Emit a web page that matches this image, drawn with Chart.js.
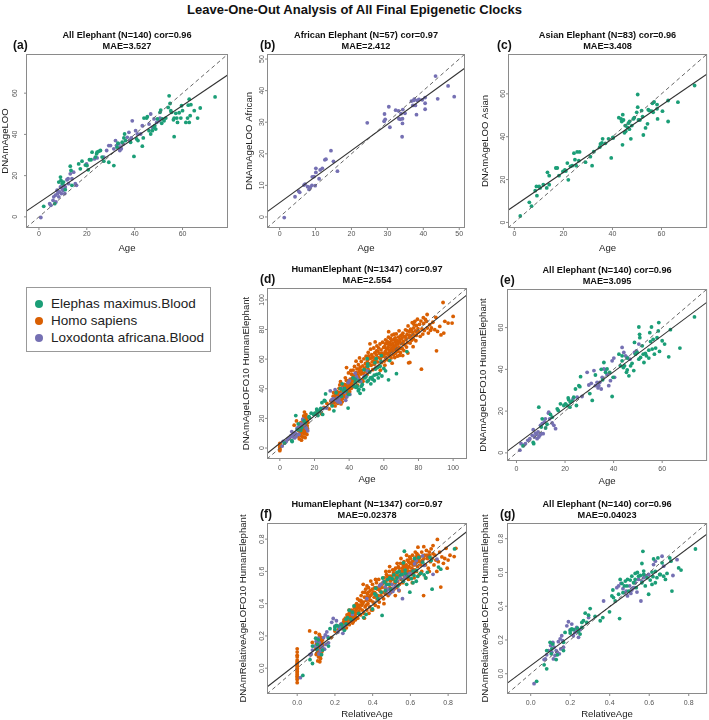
<!DOCTYPE html>
<html>
<head>
<meta charset="utf-8">
<script src="https://cdn.jsdelivr.net/npm/chart.js@4.4.0/dist/chart.umd.min.js"></script>
<style>
  body { margin: 0; background: #fff; }
  #page { position: relative; width: 709px; height: 720px; font-family: "Liberation Sans", Arial, sans-serif; overflow: hidden; }
  #page canvas { position: absolute; left: 0; top: 0; }
  #mainTitle { position: absolute; left: 0; width: 709px; top: 2px; text-align: center; font-weight: bold; font-size: 13px; color: #111; }
  #legend { position: absolute; left: 26px; top: 287px; width: 185px; height: 65px; border: 1px solid #999; box-sizing: border-box; }
  #legend .item { position: absolute; left: 24px; font-size: 13.5px; color: #222; line-height: 16px; white-space: nowrap; }
  #legend .dot { position: absolute; left: -16px; top: 4px; width: 8px; height: 8px; border-radius: 50%; }
</style>
</head>
<body>
<div id="page">
  <div id="mainTitle">Leave-One-Out Analysis of All Final Epigenetic Clocks</div>
  <div id="legend"></div>
</div>
<script>
// species shown in the legend
const speciesNames = ['Elephas maximus.Blood', 'Homo sapiens', 'Loxodonta africana.Blood'];

// panel (a): All Elephant, x = Age, y = DNAmAgeLOO
const aAsian = [[2.0,5.1],[6.6,6.4],[8.3,16.9],[9.0,19.3],[9.2,17.7],[9.7,16.1],[10.3,16.9],[11.0,13.2],[13.1,24.6],[13.4,22.5],
  [13.8,15.3],[16.6,25.7],[17.3,23.3],[18.0,27.0],[19.4,25.1],[20.1,24.9],[20.6,22.8],[21.1,27.7],[21.8,27.7],[22.2,31.4],
  [23.6,29.0],[24.1,30.6],[24.3,31.4],[25.0,31.8],[25.7,32.2],[26.4,29.0],[27.1,27.0],[29.2,26.5],[31.3,24.9],[32.7,33.8],
  [33.0,35.7],[34.8,36.2],[35.5,38.3],[36.2,37.0],[35.8,40.2],[38.3,36.2],[39.7,29.3],[40.8,37.8],[41.4,37.0],[43.2,34.3],
  [43.6,38.3],[43.9,47.9],[45.0,47.9],[45.3,48.6],[46.0,41.8],[46.7,40.2],[47.4,41.8],[48.1,43.4],[48.4,44.2],[48.8,42.6],
  [49.5,47.5],[50.6,50.7],[50.9,51.8],[51.3,45.4],[51.6,47.5],[52.3,46.6],[53.0,47.9],[54.0,53.1],[54.4,58.7],[54.8,55.0],
  [55.1,51.5],[55.4,50.7],[56.2,47.1],[56.5,38.9],[57.2,50.2],[57.6,47.9],[57.9,45.8],[58.6,50.5],[59.3,47.9],[59.6,53.9],
  [60.0,51.5],[61.4,45.8],[62.1,47.9],[62.4,54.2],[62.8,57.1],[63.2,49.1],[63.5,54.4],[64.9,51.5],[66.3,47.9],[67.4,52.8],
  [73.6,58.2],[62.8,45.8],[56.5,47.9]];
const aAfrican = [[0.8,-0.3],[4.5,6.4],[5.0,5.6],[5.9,8.0],[6.2,9.7],[6.9,10.5],[7.1,7.2],[7.6,12.9],[7.8,11.3],[8.3,9.7],
  [8.7,12.1],[9.0,14.5],[9.4,11.3],[9.7,13.7],[10.1,12.9],[10.3,15.3],[10.8,11.3],[11.0,14.5],[11.7,18.0],[12.2,18.5],
  [12.4,16.1],[13.1,20.9],[13.8,18.5],[14.5,21.7],[15.2,16.1],[15.7,15.3],[19.9,25.7],[23.2,28.1],[24.3,28.6],[27.1,29.0],
  [28.3,32.2],[29.2,34.6],[29.9,34.6],[31.3,33.0],[32.0,37.0],[32.4,34.6],[33.4,35.4],[34.1,33.8],[33.8,32.2],[34.4,33.0],
  [35.2,35.4],[36.9,38.6],[37.6,41.0],[38.0,37.0],[38.6,38.3],[39.0,46.6],[40.4,41.8],[41.1,40.2],[42.5,40.2],[43.2,44.2],
  [46.0,45.0],[46.7,49.9],[47.4,43.4],[48.1,47.5],[49.2,45.8],[50.2,46.6],[50.6,47.9]];

// panel (b): African Elephant
const bAfrican = [[1.3,-0.2],[4.3,6.4],[5.3,8.2],[5.6,7.8],[6.8,10.1],[7.1,10.4],[7.8,9.6],[8.2,8.7],[8.5,9.4],[9.0,10.0],
  [9.1,12.7],[9.6,12.8],[9.9,9.9],[10.1,15.4],[10.1,14.1],[11.0,12.1],[11.3,14.9],[11.9,15.4],[12.6,18.1],[12.9,18.3],
  [14.3,21.0],[15.0,17.6],[16.1,14.5],[24.4,29.8],[29.2,32.6],[29.1,30.3],[29.4,30.9],[30.4,34.9],[30.7,28.4],[32.3,33.8],
  [33.1,33.6],[33.2,31.1],[33.6,30.9],[33.8,32.7],[34.3,34.0],[34.2,29.6],[34.2,31.1],[34.1,25.4],[34.9,32.8],[36.7,36.7],
  [37.3,36.9],[37.1,35.3],[37.5,37.3],[37.8,35.3],[38.3,36.9],[38.1,32.4],[38.8,37.2],[39.7,37.1],[40.5,37.8],[40.5,36.0],
  [40.5,34.1],[43.4,44.6],[44.0,37.4],[46.9,41.5],[48.6,38.1]];

// panel (c): Asian Elephant
const cAsian = [[2.4,3.0],[6.1,9.4],[7.0,7.6],[8.5,14.8],[9.0,16.8],[9.2,12.5],[10.1,16.8],[10.5,16.1],[11.8,17.6],[13.2,16.1],
  [13.5,23.4],[14.2,21.8],[14.2,17.6],[16.9,25.4],[17.5,25.4],[18.2,21.8],[19.8,23.8],[20.6,24.5],[21.0,24.0],[21.6,27.7],
  [22.0,19.9],[22.9,26.2],[23.6,26.5],[24.3,32.3],[24.7,29.3],[25.2,26.5],[25.6,32.9],[26.3,28.8],[26.6,32.9],[29.0,28.1],
  [31.0,30.7],[31.7,26.5],[35.1,36.6],[35.7,37.1],[36.0,39.0],[37.1,36.9],[38.4,39.0],[39.5,30.1],[40.2,39.7],[40.3,39.4],
  [43.5,48.3],[43.8,47.1],[44.2,50.3],[44.1,36.2],[44.5,47.8],[44.9,41.8],[45.2,45.2],[45.4,42.5],[46.1,44.4],[46.5,46.3],
  [46.9,43.5],[47.5,39.0],[47.9,45.2],[48.5,48.3],[49.9,51.4],[50.3,53.8],[50.3,59.7],[50.6,47.8],[51.2,47.8],[51.9,52.2],
  [52.3,49.4],[52.6,40.8],[53.5,44.1],[54.3,46.0],[55.0,52.2],[56.0,51.9],[56.3,55.6],[56.6,51.4],[58.2,53.0],[58.2,55.0],
  [58.4,48.3],[60.4,51.9],[62.7,56.9],[62.7,47.1],[66.7,56.1],[73.5,63.9],[34.8,35.1],[48.9,48.9],[54.6,52.6],[57.0,56.2],
  [32.4,33.0],[42.6,48.9],[47.0,47.2]];

// panels (d) and (e): HumanElephant clock, x = Age, y = DNAmAgeLOFO10 HumanElephant
const eAsian = [[2.7,3.3],[7.1,4.4],[6.9,5.0],[9.2,21.9],[10.2,12.4],[10.6,16.3],[12.6,13.7],[14.0,18.4],[14.7,17.1],[16.8,21.1],
  [17.2,20.3],[18.1,23.5],[19.5,22.7],[20.2,23.5],[20.9,22.7],[21.3,26.3],[21.5,25.4],[22.0,21.9],[22.9,24.8],[23.6,26.7],
  [24.3,30.6],[24.7,22.7],[25.7,32.2],[26.1,31.7],[26.4,36.5],[31.2,25.1],[32.5,37.3],[34.9,40.0],[36.0,43.3],[36.7,38.6],
  [37.3,40.2],[38.4,38.6],[39.4,27.0],[39.8,36.2],[42.2,47.3],[42.8,41.7],[43.5,46.5],[44.0,40.9],[44.5,41.7],[45.3,38.6],
  [45.6,39.7],[46.3,36.9],[47.0,41.7],[47.6,42.9],[48.3,39.4],[48.6,52.9],[49.0,47.3],[49.7,48.1],[50.4,60.3],[50.7,56.8],
  [50.8,55.2],[51.1,45.7],[51.8,51.3],[52.2,47.3],[52.5,43.3],[53.1,47.6],[53.5,46.5],[54.5,49.2],[54.9,57.6],[55.2,53.3],
  [55.9,49.7],[56.3,54.4],[56.8,47.3],[57.3,50.2],[58.4,58.4],[58.6,62.4],[58.9,48.6],[60.0,53.7],[61.0,52.1],[62.7,46.0],
  [63.4,59.0],[67.3,50.2],[73.3,65.1],[55.6,60.3],[57.9,55.2],[54.5,45.4],[43.5,44.1],[45.6,45.4],[50.4,44.9],[22.2,24.3],
  [35.5,35.0],[30.2,28.4],[12.0,11.9]];
const eAfrican = [[1.4,1.3],[3.0,3.7],[3.7,4.4],[4.7,6.0],[5.5,6.8],[6.5,8.4],[6.9,11.1],[7.4,7.6],[7.8,9.5],[8.5,6.8],
  [8.9,10.0],[9.2,7.6],[9.6,8.4],[9.9,13.2],[10.2,9.2],[10.6,14.0],[11.0,9.2],[11.5,14.8],[11.9,16.3],[13.2,19.0],
  [13.3,19.5],[13.7,16.3],[14.7,14.3],[15.4,13.2],[16.1,11.6],[23.3,25.9],[25.0,26.7],[27.0,27.0],[29.1,38.6],[29.8,32.5],
  [30.8,33.3],[31.9,39.4],[32.5,32.2],[33.2,33.8],[33.6,31.1],[33.9,32.2],[34.3,33.8],[34.9,30.6],[35.3,36.2],[36.0,40.2],
  [36.7,39.7],[37.3,37.5],[38.0,32.2],[38.7,34.6],[39.4,44.1],[40.1,45.4],[40.4,36.2],[43.5,50.5],[44.2,48.1],[44.9,46.5],
  [45.6,45.7],[46.7,44.9],[48.6,48.1],[49.4,48.9],[50.4,52.1],[1.9,4.4],[8.2,8.9]];
const dHuman = [[0,0.4],[0,-0.9],[0,1.6],[0.2,2.4],[0,-1.8],[0.3,0.9],[0,3.1],
  [8.3,15.4],[9.6,18.3],[10.5,8.1],[11.2,6.2],[11.8,10.4],[12.1,12.3],[12.5,15.0],[12.3,8.3],[13.1,17.2],[13.5,19.5],
  [13.8,21.7],[14.4,10.5],[14.8,13.9],[15.0,16.1],[15.4,18.3],[14.0,9.4],[13.1,10.5],[12.5,5.3],[15.4,11.6],[15.8,15.0],
  [13.5,13.9],[14.4,16.8],[12.1,17.2],[14.8,20.6],[13.8,12.8],[14.2,24.3],[15.1,22.5],[13.2,7.4],[14.6,7.0],[15.6,9.2],
  [16.0,13.0],[12.8,11.6],[13.9,15.6],[14.9,12.4],[15.3,14.6],[13.4,16.3],[14.1,18.9],[15.7,20.1],[12.9,13.5],[14.5,11.4],
  [16.2,17.2],[11.5,14.2],[10.8,11.8],
  [21.5,24.0],[24.0,23.2],[25.5,27.5],[27.2,30.1],[28.5,26.4],[29.4,31.8],
  [30.1,29.2],[30.5,32.4],[30.8,35.0],[31.2,30.6],[31.5,33.8],[31.9,28.4],[32.3,36.2],[32.6,31.5],[32.8,34.4],[33.1,38.1],
  [33.4,30.2],[33.7,33.0],[34.0,35.7],[34.2,40.3],[34.5,32.1],[34.8,37.4],[35.1,34.6],[35.3,29.8],[35.6,39.2],[35.9,36.1],
  [36.2,33.5],[36.4,41.5],[36.7,38.0],[37.0,35.2],[37.3,43.0],[37.6,37.1],[37.9,39.8],[38.1,34.3],[38.4,45.6],[38.7,41.2],
  [39.0,38.2],[39.2,36.5],[39.5,43.8],[39.8,40.6],[36.0,31.2],[33.0,36.9],[31.0,37.4],[34.6,42.6],[37.8,47.4],[38.5,54.3],
  [39.6,50.7],[35.0,44.8],
  [31.6,31.0],[32.0,33.2],[33.6,35.1],[34.4,36.9],[35.4,33.0],[36.6,35.8],[37.2,39.6],[38.2,42.2],[39.3,45.0],
  [40.1,42.1],[40.3,38.0],[40.6,46.5],[40.9,44.0],[41.2,40.2],[41.4,49.8],[41.7,43.1],[42.0,47.3],[42.3,52.6],[42.5,41.4],
  [42.8,45.2],[43.1,55.1],[43.4,48.6],[43.6,44.3],[43.9,50.9],[44.2,46.8],[44.5,53.4],[44.8,42.4],[45.0,49.2],[45.3,56.2],
  [45.6,47.5],[45.9,51.8],[46.2,44.9],[46.5,54.6],[46.8,49.9],[47.0,58.4],[47.3,52.3],[47.6,46.0],[47.9,55.5],[48.2,50.4],
  [48.5,60.2],[48.8,53.7],[49.1,48.3],[49.4,57.1],[49.7,51.9],[41.0,52.4],[44.0,58.6],[46.0,60.8],[48.0,45.0],[49.8,62.0],
  [40.5,40.3],[41.6,45.4],[42.7,49.0],[43.8,46.2],[44.6,50.6],[45.7,53.3],[46.6,51.0],
  [50.1,55.0],[50.3,49.6],[50.6,59.3],[50.9,53.2],[51.2,62.1],[51.5,57.0],[51.8,51.4],[52.1,60.5],[52.4,66.7],[52.7,55.8],
  [53.0,63.0],[53.3,58.2],[53.6,52.9],[53.9,61.4],[54.2,67.5],[54.5,56.6],[54.8,64.2],[55.1,59.7],[55.4,53.8],[55.7,62.8],
  [56.0,68.9],[56.3,58.1],[56.6,65.4],[56.9,61.0],[57.2,55.2],[57.5,63.9],[57.8,70.2],[58.1,60.2],[58.4,66.3],[58.7,57.6],
  [59.0,64.1],[59.3,71.4],[59.6,61.8],[59.9,67.9],[51.0,64.5],[55.0,71.6],[58.0,52.5],[52.0,70.3],
  [50.4,57.6],[52.9,60.9],[54.0,58.8],[55.8,65.5],[57.0,67.6],[58.8,62.4],
  [60.1,63.2],[60.3,58.7],[60.5,68.5],[60.8,65.0],[61.0,73.0],[61.2,61.4],[61.5,66.8],[61.7,70.6],[62.0,64.1],[62.2,59.5],
  [62.5,68.0],[62.7,74.8],[63.0,62.6],[63.2,66.0],[63.5,71.3],[63.7,64.7],[64.0,69.4],[64.2,60.8],[64.5,67.3],[64.7,76.2],
  [65.0,65.6],[65.2,70.5],[65.5,62.9],[65.7,68.6],[66.0,73.4],[66.2,66.4],[66.5,71.8],[66.7,64.0],[67.0,69.7],[67.2,77.0],
  [67.5,67.1],[67.7,72.5],[68.0,65.3],[68.2,70.2],[68.5,74.9],[68.7,68.0],[69.0,62.5],[69.2,71.6],[69.5,67.2],[69.8,75.8],
  [60.6,55.9],[62.8,78.5],[64.8,57.3],[66.3,61.1],[68.8,79.1],[61.9,72.2],[63.9,74.0],[65.9,76.8],[67.8,62.0],[69.6,64.3],
  [62.4,71.0],[64.3,65.2],[66.8,68.8],
  [60.9,70.3],[61.6,63.7],[62.9,69.9],[63.6,62.0],[64.6,72.8],[65.4,67.8],[66.6,74.4],[67.6,70.8],[68.4,66.8],[69.4,73.2],
  [70.1,70.4],[70.4,74.1],[70.7,67.0],[71.0,77.5],[71.3,72.0],[71.6,65.8],[71.9,75.2],[72.2,69.6],[72.5,79.8],[72.8,73.3],
  [73.1,68.1],[73.4,76.7],[73.7,71.2],[74.0,82.4],[74.3,57.5],[74.6,74.5],[74.9,78.6],[75.2,70.8],[75.5,80.3],[75.8,75.6],
  [76.1,72.8],[76.4,84.6],[76.7,77.9],[77.0,73.8],[77.3,81.1],[77.6,76.2],[77.9,85.5],[78.2,79.0],[78.5,72.4],[78.8,82.7],
  [79.1,78.1],[79.4,86.9],[79.7,80.5],[70.9,62.4],[73.9,64.1],[76.9,68.4],[75.0,57.8],
  [70.5,76.3],[71.5,70.0],[72.6,75.0],[73.6,79.0],[74.8,76.2],[76.0,79.7],[77.4,83.5],[78.7,76.0],
  [80.2,78.6],[80.6,83.5],[81.0,75.4],[81.4,85.7],[81.7,53.2],[82.0,80.4],[82.5,76.9],[83.0,84.1],[83.4,79.3],[84.0,86.8],
  [84.6,85.5],[85.1,81.0],[85.7,77.6],[86.5,83.2],[87.0,79.5],[87.5,81.0],[88.3,84.9],[89.4,79.9],[90.4,65.6],[91.0,78.7],
  [92.3,82.1],[93.0,76.3],[94.2,98.2],[94.6,77.6],[95.2,85.5],[97.1,84.3],[99.4,84.3],[100.0,88.8],[90.0,88.2],[85.0,90.1],
  [82.8,88.0]];

// panels (f) and (g): x = RelativeAge, y = DNAmRelativeAgeLOFO10 HumanElephant
const gAsian = [[0.030,-0.045],[0.068,0.053],[0.081,0.029],[0.098,0.186],[0.112,0.176],[0.107,0.147],[0.129,0.084],[0.135,0.112],[0.166,0.186],[0.174,0.245],
  [0.200,0.255],[0.208,0.265],[0.216,0.261],[0.242,0.249],[0.250,0.235],[0.259,0.275],[0.267,0.314],[0.276,0.359],[0.284,0.304],[0.293,0.347],
  [0.301,0.386],[0.326,0.339],[0.352,0.314],[0.365,0.333],[0.399,0.367],[0.411,0.461],[0.416,0.496],[0.419,0.451],[0.428,0.431],[0.450,0.327],
  [0.453,0.559],[0.462,0.535],[0.467,0.480],[0.479,0.549],[0.487,0.520],[0.496,0.490],[0.504,0.555],[0.512,0.578],[0.521,0.539],[0.529,0.559],
  [0.534,0.510],[0.546,0.578],[0.555,0.582],[0.563,0.653],[0.568,0.725],[0.572,0.588],[0.580,0.520],[0.589,0.569],[0.597,0.471],[0.605,0.555],
  [0.614,0.602],[0.619,0.575],[0.622,0.680],[0.631,0.606],[0.639,0.569],[0.644,0.686],[0.653,0.588],[0.665,0.657],[0.673,0.578],[0.682,0.559],
  [0.690,0.594],[0.704,0.686],[0.710,0.667],[0.715,0.490],[0.749,0.627],[0.761,0.614],[0.834,0.739],[0.614,0.529],[0.563,0.539],[0.200,0.241],
  [0.166,0.137],[0.474,0.520],[0.631,0.539],[0.656,0.588],[0.529,0.594],[0.259,0.304],[0.572,0.608],[0.445,0.471],[0.490,0.559],[0.081,0.137],
  [0.104,0.118],[0.236,0.270],[0.540,0.600]];
const gAfrican = [[0.017,-0.059],[0.068,0.084],[0.074,0.088],[0.081,0.112],[0.090,0.137],[0.101,0.167],[0.107,0.127],[0.112,0.186],[0.118,0.157],[0.123,0.108],
  [0.129,0.137],[0.135,0.127],[0.140,0.190],[0.145,0.118],[0.149,0.206],[0.152,0.147],[0.157,0.225],[0.162,0.196],[0.166,0.157],[0.183,0.284],
  [0.191,0.308],[0.200,0.261],[0.208,0.294],[0.216,0.225],[0.225,0.245],[0.233,0.275],[0.242,0.216],[0.250,0.261],[0.293,0.333],[0.369,0.431],
  [0.436,0.510],[0.445,0.520],[0.457,0.535],[0.467,0.504],[0.474,0.480],[0.484,0.490],[0.490,0.461],[0.501,0.520],[0.507,0.476],[0.512,0.496],
  [0.521,0.510],[0.529,0.539],[0.538,0.484],[0.546,0.559],[0.558,0.431],[0.563,0.549],[0.572,0.569],[0.580,0.582],[0.597,0.588],[0.622,0.647],
  [0.631,0.667],[0.665,0.696],[0.673,0.637],[0.720,0.582],[0.741,0.676],[0.115,0.088],[0.227,0.262]];
const fHuman = [[0,0.12],[0,0.10],[0,0.08],[0,0.07],[0,0.05],[0,0.04],[0,0.03],[0,0.02],[0,0.01],[0,0.0],
  [0,-0.01],[0,-0.02],[0,-0.03],[0,-0.04],[0,-0.05],[0,-0.06],[0,-0.07],[0,-0.09],
  [0.098,0.221],[0.066,0.231],[0.101,0.085],[0.104,0.12],[0.106,0.16],[0.108,0.1],[0.11,0.14],[0.112,0.18],[0.113,0.07],[0.115,0.125],
  [0.116,0.155],[0.118,0.095],[0.119,0.2],[0.12,0.135],[0.121,0.11],[0.122,0.17],[0.124,0.06],[0.125,0.145],[0.126,0.115],[0.127,0.19],
  [0.128,0.09],[0.13,0.16],[0.131,0.13],[0.132,0.105],[0.134,0.175],[0.109,0.045],[0.117,0.21],[0.123,0.08],[0.129,0.15],[0.114,0.13],
  [0.102,0.15],[0.111,0.1],[0.099,0.12],[0.135,0.14],[0.08,0.16],[0.12,0.04],
  [0.18,0.19],[0.2,0.23],[0.22,0.24],[0.23,0.27],
  [0.241,0.262],[0.245,0.285],[0.248,0.3],[0.252,0.27],[0.255,0.31],[0.258,0.29],[0.261,0.25],[0.264,0.33],[0.267,0.28],[0.27,0.3],
  [0.273,0.32],[0.276,0.27],[0.279,0.345],[0.282,0.305],[0.285,0.29],[0.288,0.36],[0.291,0.32],[0.294,0.28],[0.297,0.34],[0.3,0.31],
  [0.303,0.375],[0.306,0.33],[0.309,0.3],[0.312,0.36],[0.315,0.4],[0.318,0.34],[0.321,0.31],[0.324,0.38],[0.327,0.35],[0.33,0.42],
  [0.26,0.305],[0.275,0.36],[0.29,0.3],[0.305,0.35],[0.32,0.43],[0.284,0.33],[0.298,0.29],[0.31,0.39],[0.25,0.24],[0.268,0.315],
  [0.262,0.275],[0.272,0.335],[0.286,0.31],[0.296,0.355],[0.308,0.32],[0.318,0.37],[0.328,0.39],
  [0.333,0.37],[0.336,0.33],[0.339,0.45],[0.342,0.39],[0.345,0.36],[0.348,0.47],[0.351,0.41],[0.354,0.34],[0.357,0.44],[0.36,0.38],
  [0.363,0.49],[0.366,0.42],[0.369,0.36],[0.372,0.46],[0.375,0.4],[0.378,0.5],[0.381,0.44],[0.384,0.38],[0.387,0.48],[0.39,0.42],
  [0.393,0.36],[0.396,0.46],[0.399,0.52],[0.402,0.41],[0.405,0.47],[0.408,0.44],[0.411,0.5],[0.414,0.39],[0.417,0.46],[0.42,0.53],
  [0.423,0.43],[0.426,0.49],[0.429,0.45],[0.432,0.55],[0.435,0.41],[0.438,0.48],[0.441,0.52],[0.444,0.45],[0.447,0.5],[0.34,0.41],
  [0.356,0.31],[0.37,0.51],[0.385,0.42],[0.4,0.36],[0.415,0.55],[0.43,0.38],[0.365,0.39],[0.39,0.54],[0.35,0.52],[0.38,0.34],
  [0.338,0.42],[0.346,0.4],[0.358,0.47],[0.368,0.44],[0.376,0.47],[0.388,0.45],[0.398,0.49],[0.41,0.47],[0.42,0.5],[0.436,0.5],
  [0.452,0.47],[0.455,0.53],[0.458,0.43],[0.461,0.56],[0.464,0.5],[0.467,0.46],[0.47,0.54],[0.473,0.58],[0.476,0.49],[0.479,0.52],
  [0.482,0.45],[0.485,0.56],[0.488,0.6],[0.491,0.5],[0.494,0.54],[0.497,0.47],[0.5,0.57],[0.503,0.52],[0.506,0.61],[0.509,0.55],
  [0.512,0.49],[0.515,0.58],[0.518,0.53],[0.521,0.62],[0.524,0.56],[0.527,0.5],[0.53,0.59],[0.533,0.54],[0.536,0.63],[0.539,0.57],
  [0.542,0.52],[0.545,0.6],[0.548,0.65],[0.551,0.55],[0.554,0.58],[0.557,0.62],[0.56,0.53],[0.563,0.6],[0.566,0.66],[0.569,0.57],
  [0.46,0.4],[0.49,0.63],[0.52,0.45],[0.55,0.68],[0.48,0.55],[0.51,0.59],[0.54,0.48],[0.565,0.63],[0.47,0.6],[0.53,0.65],
  [0.45,0.52],[0.466,0.53],[0.478,0.57],[0.49,0.57],[0.505,0.55],[0.516,0.61],[0.528,0.57],[0.54,0.62],[0.552,0.6],[0.562,0.64],
  [0.572,0.61],[0.575,0.56],[0.578,0.64],[0.581,0.59],[0.584,0.67],[0.587,0.6],[0.59,0.55],[0.593,0.63],[0.596,0.69],[0.599,0.6],
  [0.602,0.65],[0.605,0.58],[0.608,0.62],[0.611,0.7],[0.614,0.64],[0.617,0.59],[0.62,0.67],[0.623,0.61],[0.626,0.72],[0.629,0.65],
  [0.632,0.6],[0.635,0.68],[0.638,0.63],[0.641,0.7],[0.644,0.66],[0.647,0.58],[0.65,0.69],[0.655,0.64],[0.66,0.72],[0.665,0.67],
  [0.67,0.45],[0.675,0.7],[0.68,0.64],[0.685,0.73],[0.69,0.68],[0.695,0.62],[0.58,0.7],[0.61,0.53],[0.64,0.75],[0.6,0.68],
  [0.62,0.56],[0.66,0.6],[0.59,0.66],[0.63,0.69],[0.68,0.56],
  [0.574,0.63],[0.586,0.62],[0.598,0.65],[0.61,0.66],[0.622,0.64],[0.634,0.71],[0.646,0.68],[0.658,0.66],[0.672,0.68],[0.688,0.7],
  [0.702,0.7],[0.706,0.66],[0.71,0.74],[0.715,0.68],[0.72,0.71],[0.725,0.64],[0.73,0.7],[0.735,0.67],[0.743,0.798],[0.748,0.66],
  [0.755,0.72],[0.761,0.503],[0.767,0.69],[0.775,0.65],[0.782,0.68],[0.789,0.743],[0.795,0.62],[0.81,0.7],[0.832,0.692],[0.841,0.743],
  [0.72,0.76],[0.7,0.6],[0.74,0.6],[0.671,0.753],[0.8,0.67],[0.7,0.72]];

// fitted regression lines (intercept, slope) per panel a..g
const fitIntercepts = [6.9, 4.5, 7.7, 3.15, 4.1, 0.029, 0.048];
const fitSlopes = [0.785, 0.827, 0.783, 0.928, 0.868, 0.909, 0.873];

// axis ticks
const ageTicks60 = [0, 20, 40, 60];
const ageTicks50 = [0, 10, 20, 30, 40, 50];
const ageTicks100 = [0, 20, 40, 60, 80, 100];
const relTicks = [0, 0.2, 0.4, 0.6, 0.8];
const relTickLabels = ['0.0', '0.2', '0.4', '0.6', '0.8'];

// panel titles
const titles = [
  ['All Elephant (N=140) cor=0.96', 'MAE=3.527'],
  ['African Elephant (N=57) cor=0.97', 'MAE=2.412'],
  ['Asian Elephant (N=83) cor=0.96', 'MAE=3.408'],
  ['HumanElephant (N=1347) cor=0.97', 'MAE=2.554'],
  ['All Elephant (N=140) cor=0.96', 'MAE=3.095'],
  ['HumanElephant (N=1347) cor=0.97', 'MAE=0.02378'],
  ['All Elephant (N=140) cor=0.96', 'MAE=0.04023']
];

// ---------- styles ----------
const colors = ['#1B9E77', '#D95F02', '#7570B3'];
const FONT = '"Liberation Sans", Arial, sans-serif';

const page = document.getElementById('page');

// legend
const legend = document.getElementById('legend');
speciesNames.forEach((name, i) => {
  const it = document.createElement('div');
  it.className = 'item';
  it.style.top = (8 + i * 17) + 'px';
  it.innerHTML = '<span class="dot" style="background:' + colors[i] + '"></span>' + name;
  legend.appendChild(it);
});

const deco = {
  id: 'deco',
  afterDatasetsDraw(chart, args, o) {
    const ctx = chart.ctx;
    const a = chart.chartArea;
    const xs = chart.scales.x, ys = chart.scales.y;
    ctx.save();
    // box
    ctx.strokeStyle = '#8a8a8a';
    ctx.lineWidth = 1;
    ctx.strokeRect(a.left + 0.5, a.top + 0.5, a.right - a.left - 1, a.bottom - a.top - 1);
    // ticks + tick labels
    ctx.fillStyle = '#555';
    ctx.font = '7px ' + FONT;
    ctx.textAlign = 'center';
    ctx.textBaseline = 'middle';
    o.ticks.forEach((t, i) => {
      const lab = o.tickLabels ? o.tickLabels[i] : String(t);
      const px = xs.getPixelForValue(t);
      ctx.beginPath(); ctx.moveTo(px, a.bottom); ctx.lineTo(px, a.bottom + 2); ctx.stroke();
      ctx.fillText(lab, px, a.bottom + o.xTickDy);
      const py = ys.getPixelForValue(t);
      ctx.beginPath(); ctx.moveTo(a.left, py); ctx.lineTo(a.left - 2, py); ctx.stroke();
      ctx.save();
      ctx.translate(a.left - o.yTickDx, py);
      ctx.rotate(-Math.PI / 2);
      ctx.fillText(lab, 0, 0);
      ctx.restore();
    });
    // axis titles
    ctx.fillStyle = '#222';
    ctx.font = '9.6px ' + FONT;
    ctx.fillText(o.xTitle, (a.left + a.right) / 2, a.bottom + 20);
    ctx.save();
    ctx.translate(a.left - o.yTitleDx, (a.top + a.bottom) / 2);
    ctx.rotate(-Math.PI / 2);
    ctx.fillText(o.yTitle, 0, 0);
    ctx.restore();
    // panel title
    ctx.fillStyle = '#111';
    ctx.font = 'bold 9.2px ' + FONT;
    ctx.fillText(o.title[0], (a.left + a.right) / 2, a.top - 18.5);
    ctx.fillText(o.title[1], (a.left + a.right) / 2, a.top - 8);
    // panel label
    ctx.font = 'bold 12px ' + FONT;
    ctx.textAlign = 'left';
    ctx.fillText(o.label, a.left - o.labelDx, a.top - 8.5);
    ctx.restore();
  }
};

function pts(list) {
  return list.map(p => ({ x: p[0], y: p[1] }));
}

function makePanel(k, cfg) {
  const cv = document.createElement('canvas');
  cv.width = 709; cv.height = 720;
  cv.style.width = '709px'; cv.style.height = '720px';
  page.appendChild(cv);
  const lo = cfg.lim[0], hi = cfg.lim[1];
  const b = fitIntercepts[k], m = fitSlopes[k];
  const datasets = [
    { data: [{ x: lo, y: b + m * lo }, { x: hi, y: b + m * hi }], showLine: true, borderColor: '#333', borderWidth: 1.1, pointRadius: 0 },
    { data: [{ x: lo, y: lo }, { x: hi, y: hi }], showLine: true, borderColor: '#666', borderWidth: 1, borderDash: [4, 3], pointRadius: 0 }
  ];
  cfg.series.forEach(s => {
    datasets.push({ data: pts(s.data), backgroundColor: colors[s.c], borderWidth: 0, pointRadius: 1.9, pointHoverRadius: 1.9 });
  });
  new Chart(cv.getContext('2d'), {
    type: 'scatter',
    data: { datasets: datasets },
    options: {
      responsive: false,
      animation: false,
      devicePixelRatio: 1,
      events: [],
      layout: { padding: { left: cfg.box[0], top: cfg.box[1], right: 709 - cfg.box[2], bottom: 720 - cfg.box[3] } },
      plugins: {
        legend: { display: false },
        tooltip: { enabled: false },
        deco: {
          ticks: cfg.ticks, tickLabels: cfg.tickLabels, xTitle: cfg.xTitle, yTitle: cfg.yTitle,
          title: titles[k], label: cfg.label, xTickDy: cfg.xTickDy, yTickDx: cfg.yTickDx,
          yTitleDx: cfg.yTitleDx, labelDx: cfg.labelDx
        }
      },
      scales: {
        x: { type: 'linear', display: false, min: lo, max: hi },
        y: { type: 'linear', display: false, min: lo, max: hi }
      }
    },
    plugins: [deco]
  });
}

const ylabAge = 'DNAmAgeLOFO10 HumanElephant';
const ylabRel = 'DNAmRelativeAgeLOFO10 HumanElephant';

const panels = [
  { label: '(a)', box: [26, 54, 228, 228], lim: [-5.4, 79], ticks: ageTicks60, xTitle: 'Age', yTitle: 'DNAmAgeLOO',
    xTickDy: 6, yTickDx: 11, yTitleDx: 21, labelDx: 13,
    series: [{ data: aAsian, c: 0 }, { data: aAfrican, c: 2 }] },
  { label: '(b)', box: [267, 54, 465, 228], lim: [-3.5, 51.6], ticks: ageTicks50, xTitle: 'Age', yTitle: 'DNAmAgeLOO African',
    xTickDy: 6, yTickDx: 5, yTitleDx: 18, labelDx: 7,
    series: [{ data: bAfrican, c: 2 }] },
  { label: '(c)', box: [508, 54, 708, 228], lim: [-2.6, 78.6], ticks: ageTicks60, xTitle: 'Age', yTitle: 'DNAmAgeLOO Asian',
    xTickDy: 6, yTickDx: 5, yTitleDx: 23, labelDx: 11,
    series: [{ data: cAsian, c: 0 }] },
  { label: '(d)', box: [267, 288, 467, 459], lim: [-7.4, 108], ticks: ageTicks100, xTitle: 'Age', yTitle: ylabAge,
    xTickDy: 9, yTickDx: 5, yTitleDx: 21, labelDx: 7,
    series: [{ data: eAsian, c: 0 }, { data: eAfrican, c: 2 }, { data: dHuman, c: 1 }] },
  { label: '(e)', box: [507, 289, 708, 461], lim: [-3.9, 78.5], ticks: ageTicks60, xTitle: 'Age', yTitle: ylabAge,
    xTickDy: 8, yTickDx: 6, yTitleDx: 24, labelDx: 7,
    series: [{ data: eAsian, c: 0 }, { data: eAfrican, c: 2 }] },
  { label: '(f)', box: [267, 523, 467, 694], lim: [-0.16, 0.9], ticks: relTicks, tickLabels: relTickLabels, xTitle: 'RelativeAge', yTitle: ylabRel,
    xTickDy: 9, yTickDx: 5, yTitleDx: 24, labelDx: 7,
    series: [{ data: gAsian, c: 0 }, { data: gAfrican, c: 2 }, { data: fHuman, c: 1 }] },
  { label: '(g)', box: [507, 523, 708, 694], lim: [-0.12, 0.893], ticks: relTicks, tickLabels: relTickLabels, xTitle: 'RelativeAge', yTitle: ylabRel,
    xTickDy: 9, yTickDx: 6, yTitleDx: 22, labelDx: 7,
    series: [{ data: gAsian, c: 0 }, { data: gAfrican, c: 2 }] }
];

panels.forEach((p, k) => makePanel(k, p));
</script>
</body>
</html>
